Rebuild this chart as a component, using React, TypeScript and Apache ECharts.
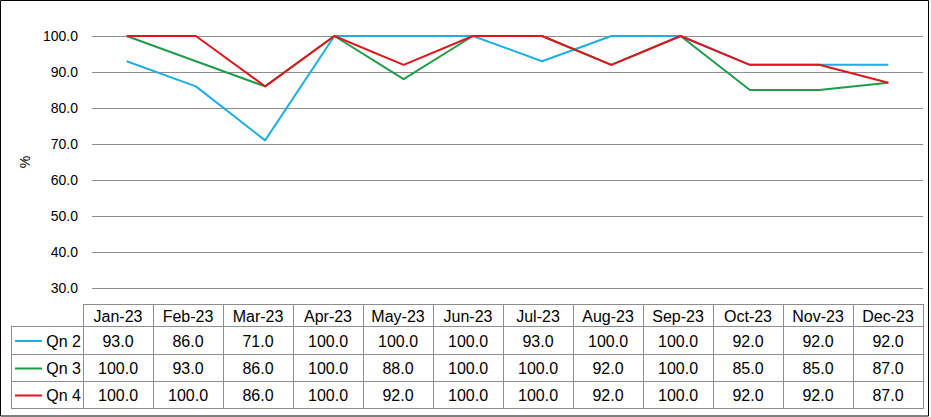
import React, { useEffect, useRef } from "react";
import * as echarts from "echarts";

const months = ["Jan-23", "Feb-23", "Mar-23", "Apr-23", "May-23", "Jun-23", "Jul-23", "Aug-23", "Sep-23", "Oct-23", "Nov-23", "Dec-23"];
const seriesNames = ["Qn 2", "Qn 3", "Qn 4"];
const qn2 = [93, 86, 71, 100, 100, 100, 93, 100, 100, 92, 92, 92];
const qn3 = [100, 93, 86, 100, 88, 100, 100, 92, 100, 85, 85, 87];
const qn4 = [100, 100, 86, 100, 92, 100, 100, 92, 100, 92, 92, 87];
const seriesData = [qn2, qn3, qn4];
const colors = ["#1FAEE3", "#1F9C4A", "#E0161E"];

const FONT = '"Liberation Sans", Arial, sans-serif';

export default function App() {
  const ref = useRef<HTMLDivElement>(null);
  useEffect(() => {
    document.body.style.margin = "0";
    const chart = echarts.init(ref.current!, null, { renderer: "svg" });

    // table geometry
    const tLeft = 83, tRight = 923, lblLeft = 11;
    const colW = (tRight - tLeft) / months.length;
    const rowY = [304, 326, 354, 381, 408];
    const gray = "#8E8E8E";
    const graphics: any[] = [];
    const hline = (x1: number, x2: number, y: number) =>
      graphics.push({ type: "line", shape: { x1, y1: y + 0.5, x2, y2: y + 0.5 }, style: { stroke: gray, lineWidth: 1 }, silent: true });
    const vline = (x: number, y1: number, y2: number) =>
      graphics.push({ type: "line", shape: { x1: x + 0.5, y1, x2: x + 0.5, y2 }, style: { stroke: gray, lineWidth: 1 }, silent: true });
    hline(tLeft, tRight + 1, rowY[0]);
    for (let i = 1; i < rowY.length; i++) hline(lblLeft, tRight + 1, rowY[i]);
    vline(lblLeft, rowY[1], rowY[4] + 1);
    for (let c = 0; c <= months.length; c++) vline(Math.round(tLeft + c * colW), rowY[0], rowY[4] + 1);
    months.forEach((m, c) => {
      graphics.push({
        type: "text", x: tLeft + (c + 0.5) * colW, y: (rowY[0] + rowY[1]) / 2 + 1, silent: true,
        style: { text: m, fill: "#000", font: `16px ${FONT}`, align: "center", verticalAlign: "middle" },
      });
    });
    seriesNames.forEach((name, r) => {
      const cy = (rowY[r + 1] + rowY[r + 2]) / 2 + 1;
      graphics.push({ type: "line", shape: { x1: 15, y1: cy, x2: 42, y2: cy }, style: { stroke: colors[r], lineWidth: 2 }, silent: true });
      graphics.push({
        type: "text", x: 81, y: cy, silent: true,
        style: { text: name, fill: "#000", font: `16px ${FONT}`, align: "right", verticalAlign: "middle" },
      });
      seriesData[r].forEach((v, c) => {
        graphics.push({
          type: "text", x: tLeft + (c + 0.5) * colW, y: cy, silent: true,
          style: { text: v.toFixed(1), fill: "#000", font: `16px ${FONT}`, align: "center", verticalAlign: "middle" },
        });
      });
    });
    graphics.push({ type: "rect", shape: { x: 0.5, y: 0.5, width: 928, height: 415.5 }, style: { fill: "none", stroke: "#000", lineWidth: 1 }, silent: true });

    chart.setOption({
      animation: false,
      backgroundColor: "#fff",
      grid: { left: 92, right: 8, top: 36, bottom: 129 },
      xAxis: {
        type: "category",
        data: months,
        boundaryGap: true,
        axisLine: { show: false },
        axisTick: { show: false },
        axisLabel: { show: false },
      },
      yAxis: {
        type: "value",
        min: 30,
        max: 100,
        interval: 10,
        name: "%",
        nameLocation: "middle",
        nameRotate: 90,
        nameGap: 50,
        nameTextStyle: { color: "#000", fontSize: 14, fontFamily: FONT },
        axisLine: { show: false },
        axisTick: { show: false },
        axisLabel: { color: "#000", fontSize: 14, fontFamily: FONT, margin: 14, formatter: (v: number) => v.toFixed(1) },
        splitLine: { lineStyle: { color: gray, width: 1 } },
      },
      series: seriesNames.map((name, i) => ({
        name,
        type: "line",
        data: seriesData[i],
        symbol: "none",
        lineStyle: { color: colors[i], width: 2 },
        itemStyle: { color: colors[i] },
        z: 2 + i,
      })),
      graphic: graphics,
    });
    return () => chart.dispose();
  }, []);
  return <div ref={ref} style={{ width: 931, height: 417 }} />;
}
